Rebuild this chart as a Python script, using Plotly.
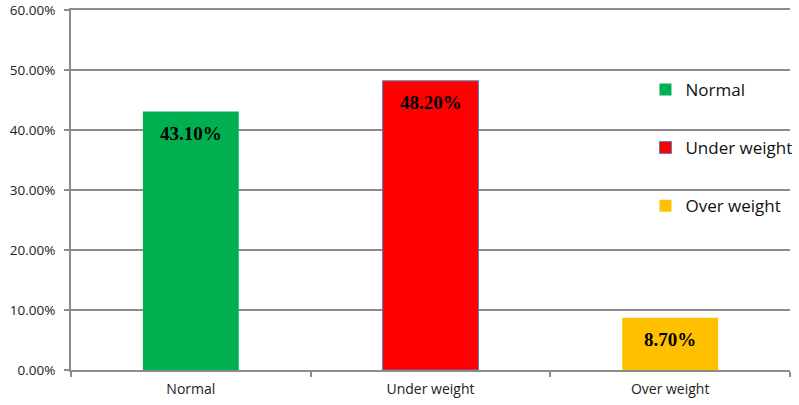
import plotly.graph_objects as go

categories = ["Normal", "Under weight", "Over weight"]
values = [43.10, 48.20, 8.70]
colors = ["#00B050", "#FF0000", "#FFC000"]
outline = ["rgba(0,0,0,0)", "#5A7EC0", "rgba(0,0,0,0)"]
labels = ["43.10%", "48.20%", "8.70%"]
ytickvals = [0, 10, 20, 30, 40, 50, 60]
yticktext = ["0.00%", "10.00%", "20.00%", "30.00%", "40.00%", "50.00%", "60.00%"]

fig = go.Figure()
for i, c in enumerate(categories):
    fig.add_trace(go.Bar(
        x=[c], y=[values[i]], name=c, width=0.4,
        marker=dict(color=colors[i], line=dict(color=outline[i], width=1)),
        legendgroup=c,
    ))

for i, c in enumerate(categories):
    fig.add_annotation(
        x=c, y=values[i], text="<b>" + labels[i] + "</b>", showarrow=False,
        yanchor="middle", yshift=-22,
        font=dict(family="Liberation Serif", size=19, color="black"),
    )

grid = "#8C8C8C"
fig.update_layout(
    width=799, height=405,
    margin=dict(l=71, r=9, t=10, b=35, autoexpand=False),
    paper_bgcolor="white", plot_bgcolor="white",
    barmode="overlay",
    font=dict(family="Open Sans", color="#222222"),
    legend=dict(
        x=0.799, y=0.828, xanchor="left", yanchor="top",
        font=dict(family="Open Sans", size=17, color="#111111"),
        tracegroupgap=33, bgcolor="rgba(0,0,0,0)",
    ),
    xaxis=dict(
        categoryorder="array", categoryarray=categories,
        range=[-0.5, 2.5], automargin=False,
        showline=True, mirror=True, linecolor=grid, linewidth=2,
        ticks="outside", tickson="boundaries", ticklen=5, tickcolor=grid, tickwidth=2,
        tickfont=dict(size=14, color="#222222"),
        ticklabelstandoff=5,
        showgrid=False,
    ),
    yaxis=dict(
        range=[0, 60], tickvals=ytickvals, ticktext=yticktext, automargin=False,
        showline=True, linecolor=grid, linewidth=2,
        ticks="outside", ticklen=5, tickcolor=grid, tickwidth=2,
        showgrid=True, gridcolor=grid, gridwidth=2,
        tickfont=dict(size=13.5, color="#222222"),
        ticklabelstandoff=6, ticklabeloverflow="allow",
        zeroline=False,
    ),
)

fig.write_html("out.html", config={"displayModeBar": False},
               post_script="document.body.style.margin='0px';")
